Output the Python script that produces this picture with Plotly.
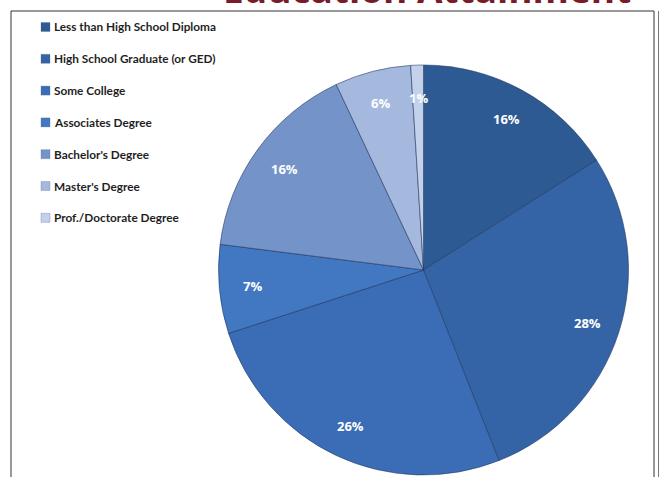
import math
import plotly.graph_objects as go

# ---- data ----
categories = [
    "Less than High School Diploma",
    "High School Graduate (or GED)",
    "Some College",
    "Associates Degree",
    "Bachelor's Degree",
    "Master's Degree",
    "Prof./Doctorate Degree",
]
shares = [16, 28, 26, 7, 16, 6, 1]
title_text = "Education Attainment"

# ---- style ----
colors = ["#2E5A93", "#3564A6", "#3A6DB6", "#4277C2", "#7494C9", "#A5B9DF", "#C4D1EB"]
W, H = 660, 477


def px(x):
    return x / W


def py(y):
    return 1 - y / H


cx, cy, R = 423.5, 270, 205

fig = go.Figure()
fig.add_trace(go.Pie(
    labels=categories,
    values=shares,
    sort=False,
    direction="clockwise",
    rotation=0,
    marker=dict(colors=colors, line=dict(color="rgba(30,50,90,0.55)", width=1)),
    textinfo="none",
    hoverinfo="label+percent",
    domain=dict(x=[px(cx - R), px(cx + R)], y=[py(cy + R), py(cy - R)]),
    showlegend=False,
))

annotations = []
shapes = []

# slice labels, placed from cumulative shares
total = sum(shares)
cum = 0
for v in shares:
    mid = (cum + v / 2) / total
    cum += v
    a = 2 * math.pi * mid
    x = cx + 0.84 * R * math.sin(a)
    y = cy - 0.84 * R * math.cos(a)
    annotations.append(dict(
        x=px(x), y=py(y), xref="paper", yref="paper",
        text="<b>%d%%</b>" % round(100 * v / total), showarrow=False,
        font=dict(family="Open Sans", size=13, color="white"),
        xanchor="center", yanchor="middle",
    ))

# manual legend
for i, (cat, col) in enumerate(zip(categories, colors)):
    yy = 27 + i * 31.8
    shapes.append(dict(type="rect", xref="paper", yref="paper",
                       x0=px(41), x1=px(50), y0=py(yy + 4.5), y1=py(yy - 4.5),
                       fillcolor=col, line=dict(color="rgba(80,100,140,0.6)", width=0.5)))
    annotations.append(dict(
        x=px(52), y=py(yy), xref="paper", yref="paper",
        text="<b>%s</b>" % cat, showarrow=False,
        font=dict(family="Lato", size=11.8, color="#1f1f1f"),
        xanchor="left", yanchor="middle",
    ))

# title (cut off at top, as in the reference)
annotations.append(dict(
    x=px(427), y=py(16.5), xref="paper", yref="paper",
    text="<b>%s</b>" % title_text, showarrow=False,
    font=dict(family="Open Sans", size=37, color="#7A1B2A"),
    xanchor="center", yanchor="bottom",
))

# frame
shapes.append(dict(type="rect", xref="paper", yref="paper",
                   x0=px(11), x1=px(654), y0=py(490), y1=py(11),
                   line=dict(color="#333333", width=1)))
shapes.append(dict(type="line", xref="paper", yref="paper",
                   x0=px(658.5), x1=px(658.5), y0=py(490), y1=py(11),
                   line=dict(color="#777777", width=1)))

fig.update_layout(
    width=W, height=H,
    margin=dict(l=0, r=0, t=0, b=0),
    paper_bgcolor="white", plot_bgcolor="white",
    annotations=annotations, shapes=shapes,
)

fig.write_html("out.html",
               config={"displayModeBar": False},
               post_script="document.body.style.margin='0';document.body.style.overflow='hidden';")
